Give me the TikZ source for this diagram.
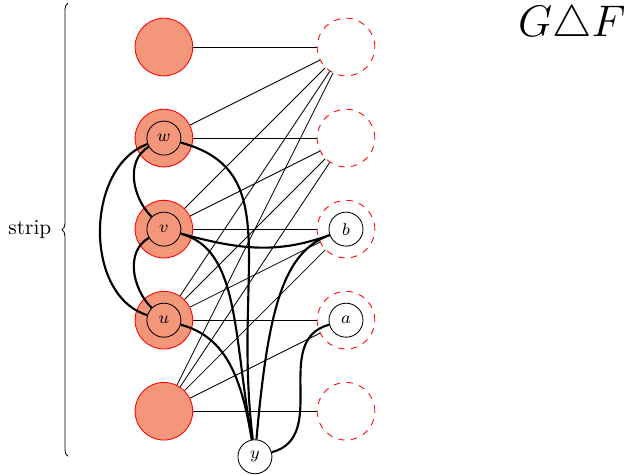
\documentclass[tikz,border=0pt]{standalone}
\usepackage{amsmath}
\usepackage{amssymb}
\usepackage{tikz}
\usepackage{xcolor}
\usetikzlibrary{decorations.pathreplacing}

\definecolor{salmonfill}{RGB}{244,150,122}

\begin{document}
\begin{tikzpicture}[
        big/.style={circle,draw=red,fill=salmonfill,minimum size=0.95cm,inner sep=0pt},
        ghost/.style={circle,draw=red,dashed,minimum size=0.95cm,inner sep=0pt},
        vtx/.style={circle,draw,minimum size=0.56cm,inner sep=0pt,font=\footnotesize},
        link/.style={line width=1pt}]
        \useasboundingbox (-2.70,-1.05) rectangle (7.58,6.775);

        % Left column
        \node[big] (l1) at (0,6) {};
        \node[big] (l2) at (0,4.5) {};
        \node[big] (l3) at (0,3) {};
        \node[big] (l4) at (0,1.5) {};
        \node[big] (l5) at (0,0) {};

        % Right column
        \node[ghost] (r1) at (3,6) {};
        \node[ghost] (r2) at (3,4.5) {};
        \node[ghost] (r3) at (3,3) {};
        \node[ghost] (r4) at (3,1.5) {};
        \node[ghost] (r5) at (3,0) {};

        % Thin edges
        \draw (l1) -- (r1);
        \draw (l2) -- (r1); \draw (l2) -- (r2);
        \draw (l3) -- (r1); \draw (l3) -- (r2); \draw (l3) -- (r3);
        \draw (l4) -- (r1); \draw (l4) -- (r2); \draw (l4) -- (r3); \draw (l4) -- (r4);
        \draw (l5) -- (r1); \draw (l5) -- (r2); \draw (l5) -- (r3); \draw (l5) -- (r4); \draw (l5) -- (r5);

        % Inner vertices
        \node[vtx] (w) at (l2) {$w$};
        \node[vtx] (v) at (l3) {$v$};
        \node[vtx] (u) at (l4) {$u$};
        \node[vtx] (b) at (r3) {$b$};
        \node[vtx] (a) at (r4) {$a$};
        \node[vtx] (y) at (1.5,-0.75) {$y$};

        % Thick edges
        \draw[link] (w) to[out=210,in=135] (v);
        \draw[link] (v) to[out=210,in=135] (u);
        \draw[link] (w) to[out=200,in=163] (u);
        \draw[link] (w) to[out=-15,in=97,out distance=1.8cm,in distance=2.8cm] (y);
        \draw[link] (v) to[out=-15,in=100,out distance=1cm,in distance=1.8cm] (y);
        \draw[link] (u) to[out=-15,in=100,out distance=0.8cm,in distance=1cm] (y);
        \draw[link] (v) to[out=-15,in=200] (b);
        \draw[link] (y) to[out=85,in=200,out distance=2.2cm,in distance=0.8cm] (b);
        \draw[link] (y) to[out=15,in=195,distance=1cm] (a);

        % Brace
        \draw[decorate,decoration={brace,amplitude=0.1cm}] (-1.58,-0.74) -- (-1.58,6.72)
            node[midway,left=0.15cm] (strip) {strip};

        % Title
        \node[font=\huge,inner sep=0pt,anchor=base] (gf) at (6.72,6.18) {$G\triangle F$};
\end{tikzpicture}
\end{document}
